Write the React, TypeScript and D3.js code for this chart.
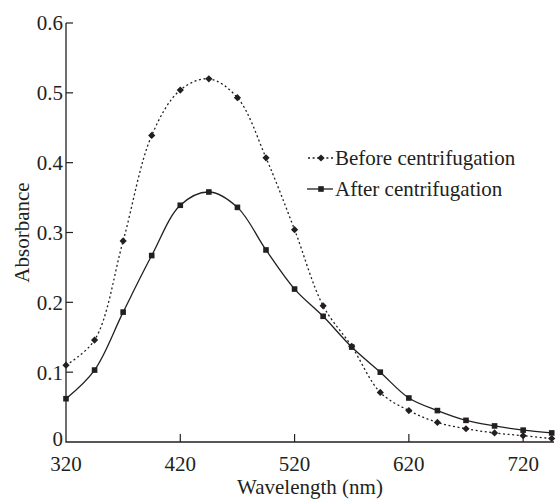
import React from "react";
import * as d3 from "d3";

// wavelength (nm)
const wavelengths = [320, 345, 370, 395, 420, 445, 470, 495, 520, 545, 570, 595, 620, 645, 670, 695, 720, 745];
const beforeValues = [0.110, 0.146, 0.288, 0.439, 0.504, 0.520, 0.493, 0.407, 0.304, 0.195, 0.137, 0.071, 0.045, 0.028, 0.019, 0.013, 0.009, 0.005];
const afterValues = [0.062, 0.103, 0.186, 0.267, 0.339, 0.358, 0.336, 0.275, 0.219, 0.180, 0.136, 0.100, 0.063, 0.045, 0.031, 0.023, 0.017, 0.013];
const xTicks = [420, 520, 620, 720];
const xTickLabels = ["320", "420", "520", "620", "720"];
const yTicks = [0.1, 0.2, 0.3, 0.4, 0.5, 0.6];
const yTickLabels = ["0", "0.1", "0.2", "0.3", "0.4", "0.5", "0.6"];
const seriesNames = ["Before centrifugation", "After centrifugation"];

const W = 558;
const H = 499;
const ink = "#231f20";
const font = "'Liberation Serif', 'Times New Roman', serif";

export default function App() {
  const x = d3.scaleLinear().domain([320, 747]).range([66, 554]);
  const y = d3.scaleLinear().domain([0, 0.6]).range([442, 23]);

  const line = d3
    .line<[number, number]>()
    .x(d => x(d[0]))
    .y(d => y(d[1]))
    .curve(d3.curveCatmullRom.alpha(0.5));

  const before = wavelengths.map((w, i) => [w, beforeValues[i]] as [number, number]);
  const after = wavelengths.map((w, i) => [w, afterValues[i]] as [number, number]);

  const diamond = (cx: number, cy: number, r = 3.6) =>
    `M${cx},${cy - r}L${cx + r},${cy}L${cx},${cy + r}L${cx - r},${cy}Z`;
  const sq = 5.6;

  return (
    <svg width={W} height={H} style={{ position: "absolute", left: 0, top: 0, background: "#fff" }}>
      {/* axes */}
      <path d={`M${x(320)},${y(0.6)}V${y(0)}H${x(747)}`} fill="none" stroke={ink} strokeWidth={1.3} />
      {yTicks.map(t => (
        <line key={"yt" + t} x1={x(320)} x2={x(320) + 7} y1={y(t)} y2={y(t)} stroke={ink} strokeWidth={1.2} />
      ))}
      {xTicks.map(t => (
        <line key={"xt" + t} x1={x(t)} x2={x(t)} y1={y(0)} y2={y(0) - 8} stroke={ink} strokeWidth={1.2} />
      ))}
      <g fontFamily={font} fontSize={21} fill={ink}>
        {yTickLabels.map((l, i) => (
          <text key={"yl" + l} x={x(320) - 3} y={y(i * 0.1) - (i === 0 ? 3 : 0)} dy="0.35em" textAnchor="end">{l}</text>
        ))}
        {xTickLabels.map((l, i) => (
          <text key={"xl" + l} x={x(320 + i * 100)} y={471} textAnchor="middle">{l}</text>
        ))}
        <text x={(x(320) + x(747)) / 2} y={494} textAnchor="middle">Wavelength (nm)</text>
        <text transform={`translate(22,${(y(0) + y(0.6)) / 2}) rotate(-90)`} dy="0.35em" textAnchor="middle">Absorbance</text>
      </g>

      {/* series */}
      <path d={line(before) || ""} fill="none" stroke={ink} strokeWidth={1.3} strokeDasharray="2,2.6" />
      <path d={line(after) || ""} fill="none" stroke={ink} strokeWidth={1.3} />
      {before.map(d => (
        <path key={"b" + d[0]} d={diamond(x(d[0]), y(d[1]))} fill={ink} />
      ))}
      {after.map(d => (
        <rect key={"a" + d[0]} x={x(d[0]) - sq / 2} y={y(d[1]) - sq / 2} width={sq} height={sq} fill={ink} />
      ))}

      {/* legend */}
      <g fontFamily={font} fontSize={21} fill={ink}>
        <line x1={308} x2={333} y1={158} y2={158} stroke={ink} strokeWidth={1.3} strokeDasharray="2,2.6" />
        <path d={diamond(321, 158)} fill={ink} />
        <text x={335} y={158} dy="0.35em">{seriesNames[0]}</text>
        <line x1={307} x2={333} y1={189} y2={189} stroke={ink} strokeWidth={1.3} />
        <rect x={321 - sq / 2} y={189 - sq / 2} width={sq} height={sq} fill={ink} />
        <text x={335} y={189} dy="0.35em">{seriesNames[1]}</text>
      </g>
    </svg>
  );
}
